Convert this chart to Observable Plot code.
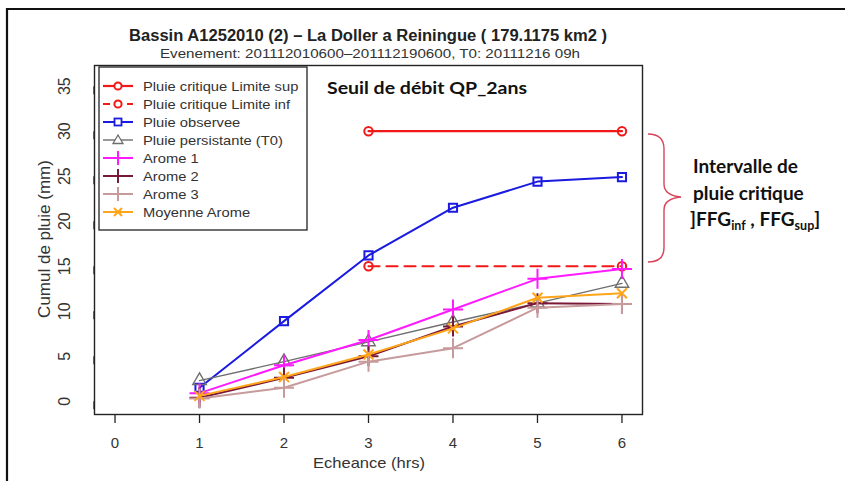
<!DOCTYPE html>
<html>
<head>
<meta charset="utf-8">
<script src="https://cdn.jsdelivr.net/npm/d3@7"></script>
<script src="https://cdn.jsdelivr.net/npm/@observablehq/plot@0.6"></script>
<style>
  html, body { margin: 0; padding: 0; background: #fff; }
  #chart { width: 845px; height: 481px; overflow: hidden; }
</style>
</head>
<body>
<div id="chart"></div>
<script>
// ---- data ----
const echeance = [1, 2, 3, 4, 5, 6];
const critX = [3, 6];
const critSup = [30, 30];
const critInf = [15, 15];
const observee = [1.5, 8.9, 16.2, 21.5, 24.4, 24.9];
const persistante = [2.3, 4.4, 6.6, 8.8, 10.9, 13.1];
const arome1 = [0.9, 4.0, 6.8, 10.2, 13.6, 14.7];
const arome2 = [0.4, 2.6, 5.0, 8.3, 10.9, 10.8];
const arome3 = [0.3, 1.5, 4.4, 5.9, 10.4, 10.8];
const moyenne = [0.6, 2.7, 5.2, 8.1, 11.5, 12.0];

const xTicks = [0, 1, 2, 3, 4, 5, 6];
const yTicks = [0, 5, 10, 15, 20, 25, 30, 35];

const titleText = "Bassin A1252010 (2) \u2013 La Doller a Reiningue ( 179.1175 km2 )";
const subtitleText = "Evenement: 201112010600\u2013201112190600, T0: 20111216 09h";
const xLabel = "Echeance (hrs)";
const yLabel = "Cumul de pluie (mm)";
const seuilText = "Seuil de d\u00e9bit QP_2ans";
const intervalLines = ["Intervalle de", "pluie critique"];

const seriesNames = ["Pluie critique Limite sup", "Pluie critique Limite inf", "Pluie observee",
  "Pluie persistante (T0)", "Arome 1", "Arome 2", "Arome 3", "Moyenne Arome"];

// ---- build tables ----
const mk = (xs, ys) => xs.map((x, i) => ({x, y: ys[i]}));
const series = [
  {name: seriesNames[0], data: mk(critX, critSup), color: "#f21818", symbol: "circle", dash: null, sw: 2.2},
  {name: seriesNames[1], data: mk(critX, critInf), color: "#f21818", symbol: "circle", dash: "11,7", sw: 2.2},
  {name: seriesNames[2], data: mk(echeance, observee), color: "#1a1ae0", symbol: "square", dash: null, sw: 2},
  {name: seriesNames[3], data: mk(echeance, persistante), color: "#6e6e6e", symbol: "triangle", dash: null, sw: 1.4},
  {name: seriesNames[4], data: mk(echeance, arome1), color: "#ff1aff", symbol: "plus", dash: null, sw: 2},
  {name: seriesNames[5], data: mk(echeance, arome2), color: "#7a1838", symbol: "plus", dash: null, sw: 2},
  {name: seriesNames[6], data: mk(echeance, arome3), color: "#c79a9c", symbol: "plus", dash: null, sw: 2},
  {name: seriesNames[7], data: mk(echeance, moyenne), color: "#ffa51a", symbol: "times", dash: null, sw: 2}
];

const symbolSize = {circle: 4.2, square: 4.6, triangle: 5, plus: 6.5, times: 4.6};

const marks = [];
for (const s of series) {
  marks.push(Plot.line(s.data, {x: "x", y: "y", stroke: s.color, strokeWidth: s.sw, strokeDasharray: s.dash}));
  marks.push(Plot.dot(s.data, {x: "x", y: "y", stroke: s.color, fill: "none", symbol: s.symbol,
    r: symbolSize[s.symbol], strokeWidth: s.symbol === "triangle" ? 1.4 : 2}));
}

const fontR = "'Liberation Sans', Arial, Helvetica, sans-serif";

const plot = Plot.plot({
  width: 845,
  height: 481,
  marginLeft: 94,
  marginRight: 203,
  marginTop: 65,
  marginBottom: 67,
  style: {fontFamily: fontR, background: "#fff", overflow: "visible"},
  x: {domain: [-0.243, 6.243], label: null},
  y: {domain: [-1.47, 37.3], label: null},
  marks: [
    Plot.axisX({ticks: xTicks, tickSize: 9, tickPadding: 14, fontSize: 15, tickFormat: d => String(d), stroke: "#222", fill: "#333", strokeWidth: 1.3}),
    Plot.axisY({ticks: yTicks, tickSize: 8, tickPadding: 22, fontSize: 16, rotate: -90, textAnchor: "middle", tickFormat: d => String(d), stroke: "#222", fill: "#333", strokeWidth: 1.3}),
    ...marks,
    Plot.frame({stroke: "#222", strokeWidth: 1.4})
  ]
});

document.getElementById("chart").appendChild(plot);
const svg = d3.select(plot);

// outer image border
svg.append("path").attr("d", "M7,485 L7,9 L850,9").attr("fill", "none").attr("stroke", "#111").attr("stroke-width", 2.2);

// titles
svg.append("text").attr("x", 368).attr("y", 41).attr("text-anchor", "middle")
  .attr("font-family", fontR).attr("font-weight", "bold").attr("font-size", 16).attr("fill", "#222")
  .attr("textLength", 478).attr("lengthAdjust", "spacingAndGlyphs").text(titleText);
svg.append("text").attr("x", 370).attr("y", 58).attr("text-anchor", "middle")
  .attr("font-family", fontR).attr("font-size", 12.5).attr("fill", "#333")
  .attr("textLength", 420).attr("lengthAdjust", "spacingAndGlyphs").text(subtitleText);

// axis titles
svg.append("text").attr("x", 369).attr("y", 468).attr("text-anchor", "middle")
  .attr("font-family", fontR).attr("font-size", 15).attr("fill", "#333")
  .attr("textLength", 112).attr("lengthAdjust", "spacingAndGlyphs").text(xLabel);
svg.append("text").attr("transform", "translate(50,239) rotate(-90)").attr("text-anchor", "middle")
  .attr("font-family", fontR).attr("font-size", 17).attr("fill", "#333").text(yLabel);

// legend
const lg = svg.append("g");
lg.append("rect").attr("x", 99).attr("y", 67).attr("width", 208).attr("height", 163)
  .attr("fill", "#fff").attr("stroke", "#222").attr("stroke-width", 1.3);
series.forEach((s, i) => {
  const cy = 86 + i * 18;
  lg.append("line").attr("x1", 103).attr("x2", 133).attr("y1", cy).attr("y2", cy)
    .attr("stroke", s.color).attr("stroke-width", s.sw).attr("stroke-dasharray", s.dash ? "7,5" : null);
  if (s.symbol === "circle") {
    lg.append("circle").attr("cx", 118).attr("cy", cy).attr("r", 3.6).attr("fill", "#fff").attr("stroke", s.color).attr("stroke-width", 2);
  } else if (s.symbol === "square") {
    lg.append("rect").attr("x", 114.5).attr("y", cy - 3.5).attr("width", 7).attr("height", 7).attr("fill", "#fff").attr("stroke", s.color).attr("stroke-width", 1.8);
  } else if (s.symbol === "triangle") {
    lg.append("path").attr("d", `M118,${cy-5} L123,${cy+3.5} L113,${cy+3.5} Z`).attr("fill", "#fff").attr("stroke", s.color).attr("stroke-width", 1.3);
  } else if (s.symbol === "plus") {
    lg.append("path").attr("d", `M118,${cy-7} L118,${cy+7}`).attr("stroke", s.color).attr("stroke-width", 2);
  } else {
    lg.append("path").attr("d", `M114,${cy-4} L122,${cy+4} M114,${cy+4} L122,${cy-4}`).attr("stroke", s.color).attr("stroke-width", 2);
  }
  lg.append("text").attr("transform", `translate(143,${cy + 4.6}) scale(1.15,1)`)
    .attr("text-anchor", "start").attr("font-family", fontR).attr("font-size", 12.8)
    .attr("fill", "#333").text(s.name);
});

// annotations
const fontC = "Lato, 'Open Sans', sans-serif";
svg.append("text").attr("x", 327).attr("y", 94).attr("text-anchor", "start").attr("font-family", fontC).attr("font-weight", "bold")
  .attr("font-size", 17.5).attr("fill", "#111").attr("textLength", 200).attr("lengthAdjust", "spacingAndGlyphs").text(seuilText);

intervalLines.forEach((t, i) => {
  svg.append("text").attr("x", 693).attr("y", 173 + i * 26.5).attr("text-anchor", "start")
    .attr("font-family", fontC).attr("font-weight", "bold").attr("font-size", 19).attr("fill", "#111").text(t);
});
const t3 = svg.append("text").attr("x", 690).attr("y", 226).attr("text-anchor", "start")
  .attr("font-family", fontC).attr("font-weight", "bold").attr("font-size", 19).attr("fill", "#111");
t3.append("tspan").text("]FFG");
t3.append("tspan").attr("font-size", 12.5).attr("dy", 4).text("inf");
t3.append("tspan").attr("dy", -4).text(" , FFG");
t3.append("tspan").attr("font-size", 12.5).attr("dy", 4).text("sup");
t3.append("tspan").attr("dy", -4).text("]");

// curly brace
svg.append("path")
  .attr("d", "M648,134 C659,134 664,139 664,149 L664,184 C664,192 670,196 681,197 C670,198 664,202 664,210 L664,248 C664,257 659,262 648,262")
  .attr("fill", "none").attr("stroke", "#d8445a").attr("stroke-width", 1.4);
</script>
</body>
</html>
